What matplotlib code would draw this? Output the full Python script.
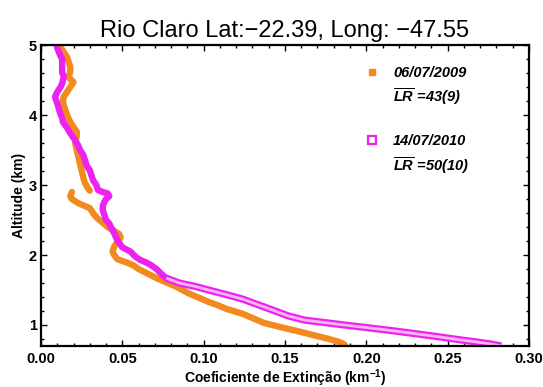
import matplotlib
matplotlib.use("Agg")
import matplotlib.pyplot as plt
from matplotlib.lines import Line2D
from matplotlib.ticker import MultipleLocator, FormatStrFormatter

plt.rcParams['font.family'] = ['Liberation Sans', 'DejaVu Sans']
plt.rcParams['mathtext.fontset'] = 'custom'
plt.rcParams['mathtext.rm'] = 'Liberation Sans:bold'
plt.rcParams['mathtext.bf'] = 'Liberation Sans:bold'
plt.rcParams['mathtext.it'] = 'Liberation Sans:bold:italic'

# extinction profile 06/07/2009 (two pieces, the profile jumps near 2.9 km)
alt_2009_top = [4.97, 4.90, 4.83, 4.76, 4.69, 4.62, 4.54, 4.47, 4.40, 4.33, 4.26, 4.21,
                4.14, 4.07, 3.97, 3.90, 3.83, 3.76, 3.70, 3.60, 3.50, 3.40, 3.30, 3.21,
                3.11, 3.03, 2.95, 2.92]
ext_2009_top = [0.012, 0.014, 0.016, 0.017, 0.018, 0.018, 0.017, 0.020, 0.018, 0.016, 0.014, 0.0135,
                0.014, 0.015, 0.0166, 0.018, 0.020, 0.022, 0.022, 0.021, 0.022, 0.023, 0.024, 0.025,
                0.026, 0.027, 0.029, 0.030]
alt_2009_low = [2.90, 2.84, 2.80, 2.74, 2.70, 2.67, 2.60, 2.54, 2.46, 2.40, 2.36, 2.30, 2.25,
                2.19, 2.12, 2.05, 2.00, 1.94, 1.89, 1.85, 1.80, 1.73, 1.67, 1.60, 1.55, 1.50,
                1.45, 1.39, 1.33, 1.28, 1.23, 1.16, 1.10, 1.03, 0.96, 0.90, 0.84, 0.80, 0.76,
                0.73, 0.71]
ext_2009_low = [0.019, 0.018, 0.019, 0.023, 0.027, 0.030, 0.032, 0.034, 0.038, 0.041, 0.044, 0.048, 0.049,
                0.047, 0.045, 0.044, 0.045, 0.047, 0.053, 0.057, 0.060, 0.066, 0.071, 0.078, 0.083, 0.087,
                0.091, 0.097, 0.103, 0.109, 0.114, 0.124, 0.130, 0.137, 0.149, 0.160, 0.170, 0.177, 0.183,
                0.186, 0.187]

# extinction profile 14/07/2010
alt_2010 = [4.97, 4.90, 4.86, 4.80, 4.74, 4.67, 4.61, 4.55, 4.50, 4.45, 4.40, 4.33, 4.26, 4.20,
            4.13, 4.03, 3.96, 3.90, 3.82, 3.74, 3.64, 3.56, 3.50, 3.43, 3.36, 3.28, 3.21, 3.14,
            3.07, 3.00, 2.93, 2.90, 2.88, 2.84, 2.80, 2.76, 2.70, 2.64, 2.57, 2.50, 2.45, 2.40,
            2.31, 2.21, 2.11, 2.05, 2.00, 1.96, 1.93, 1.89, 1.85, 1.80, 1.73, 1.67, 1.60, 1.55,
            1.50, 1.44, 1.37, 1.31, 1.26, 1.20, 1.13, 1.07, 1.03, 0.99, 0.95, 0.91, 0.87, 0.83,
            0.79, 0.76, 0.73, 0.70]
ext_2010 = [0.0098, 0.011, 0.0117, 0.013, 0.013, 0.013, 0.013, 0.014, 0.0135, 0.013, 0.012, 0.010, 0.0086, 0.0095,
            0.0105, 0.0117, 0.013, 0.0135, 0.016, 0.018, 0.021, 0.023, 0.024, 0.026, 0.027, 0.028, 0.030, 0.031,
            0.032, 0.034, 0.035, 0.038, 0.041, 0.042, 0.040, 0.039, 0.038, 0.038, 0.039, 0.040, 0.042, 0.043,
            0.045, 0.047, 0.050, 0.055, 0.057, 0.059, 0.061, 0.065, 0.068, 0.071, 0.074, 0.077, 0.085, 0.095,
            0.103, 0.113, 0.124, 0.131, 0.137, 0.144, 0.152, 0.162, 0.176, 0.190, 0.205, 0.219, 0.232, 0.245,
            0.257, 0.267, 0.276, 0.283]

labels_2009 = ['06/07/2009', r'$\overline{\mathit{LR}}$ =43(9)']
labels_2010 = ['14/07/2010', r'$\overline{\mathit{LR}}$ =50(10)']

orange = '#f28a1e'
magenta = '#ee22ee'
pink = '#f7b6f2'

fig = plt.figure(figsize=(5.43, 3.87), dpi=100)
ax = fig.add_axes([0.0755, 0.106, 0.8985, 0.7775])

ax.plot(ext_2009_top, alt_2009_top, color=orange, lw=4.6, solid_capstyle='round', solid_joinstyle='round')
ax.plot(ext_2009_low, alt_2009_low, color=orange, lw=4.6, solid_capstyle='round', solid_joinstyle='round')

# upper part dense (solid), lower part open squares (outlined band)
split = alt_2010.index(1.67)
ax.plot(ext_2010[:split + 1], alt_2010[:split + 1], color=magenta, lw=4.6,
        solid_capstyle='round', solid_joinstyle='round')
ax.plot(ext_2010[split:], alt_2010[split:], color=magenta, lw=5.2,
        solid_capstyle='butt', solid_joinstyle='round')
ax.plot(ext_2010[split:], alt_2010[split:], color=pink, lw=2.0,
        solid_capstyle='butt', solid_joinstyle='round')

ax.set_xlim(0, 0.30)
ax.set_ylim(0.70, 5)
ax.xaxis.set_major_locator(MultipleLocator(0.05))
ax.xaxis.set_minor_locator(MultipleLocator(0.01))
ax.yaxis.set_major_locator(MultipleLocator(1))
ax.yaxis.set_minor_locator(MultipleLocator(0.2))
ax.xaxis.set_major_formatter(FormatStrFormatter('%.2f'))
ax.tick_params(which='both', direction='in', top=True, right=True, width=1.0)
ax.tick_params(which='major', length=4, labelsize=10.5)
ax.tick_params(which='minor', length=2)
ax.tick_params(axis='x', pad=4)
ax.tick_params(axis='y', pad=3)
for lab in ax.get_xticklabels() + ax.get_yticklabels():
    lab.set_fontweight('bold')
for sp in ax.spines.values():
    sp.set_linewidth(1.6)

ax.set_title('Rio Claro Lat:\u221222.39, Long: \u221247.55', fontsize=17, pad=6)
ax.set_xlabel(r'Coeficiente de Extinção (km$^{-1}$)', fontsize=10, fontweight='bold', labelpad=1)
ax.set_ylabel('Altitude (km)', fontsize=10, fontweight='bold', labelpad=2)

blank = Line2D([], [], linestyle='none')
handles = [Line2D([], [], marker='s', color=orange, markersize=5, linestyle='none'), blank, blank,
           Line2D([], [], marker='s', markerfacecolor='white', markeredgecolor=magenta,
                  markeredgewidth=1.6, markersize=5.5, linestyle='none'), blank]
leg = ax.legend(handles, [labels_2009[0], labels_2009[1], '', labels_2010[0], labels_2010[1]],
                loc='upper left', bbox_to_anchor=(0.666, 0.93), frameon=False,
                borderaxespad=0, borderpad=0,
                prop={'weight': 'bold', 'style': 'italic', 'size': 10.5},
                handlelength=0.8, handletextpad=1.05, labelspacing=0.45)

fig.savefig('out.png', dpi=100)
